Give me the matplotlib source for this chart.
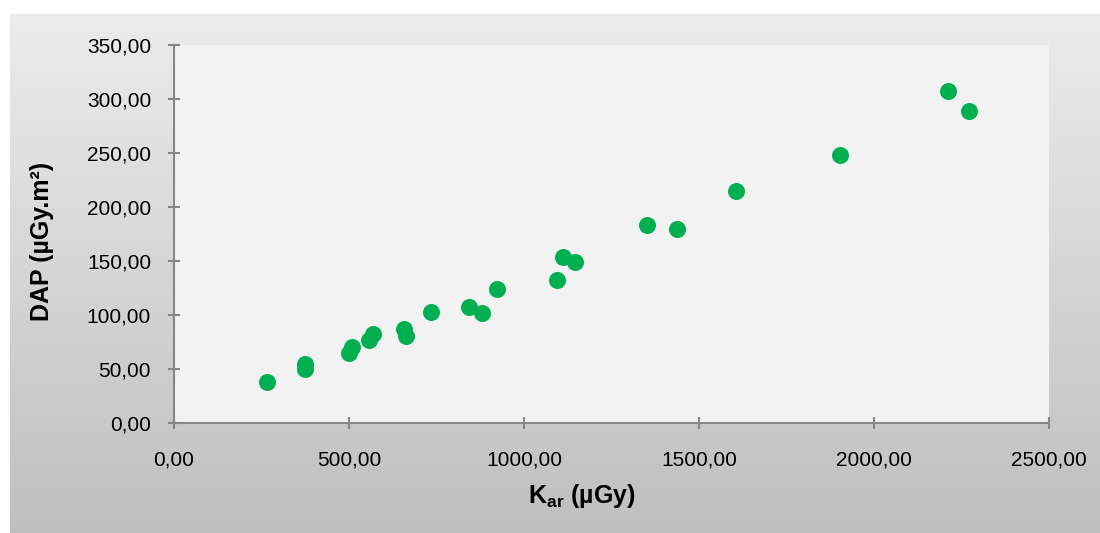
import matplotlib.pyplot as plt
import numpy as np
from matplotlib.ticker import FuncFormatter, MultipleLocator

plt.rcParams['font.family'] = ['Liberation Sans', 'DejaVu Sans']
plt.rcParams['mathtext.fontset'] = 'custom'
plt.rcParams['mathtext.rm'] = 'Liberation Sans'
plt.rcParams['mathtext.bf'] = 'Liberation Sans:bold'

# Kar (µGy) vs DAP (µGy.m2)
kar = [266, 374, 374, 501, 508, 557, 568, 658, 662, 734, 844, 880, 922,
       1095, 1112, 1146, 1352, 1437, 1607, 1902, 2211, 2270]
dap = [38.0, 54.5, 50.0, 64.5, 70.0, 76.5, 82.0, 87.5, 81.0, 102.5, 107.0, 102.0, 124.5,
       132.0, 153.5, 149.0, 183.5, 179.5, 214.5, 248.5, 307.5, 289.0]


def comma_fmt(v, pos):
    return f'{v:.2f}'.replace('.', ',')


def plot():
    fig = plt.figure(figsize=(11, 5.33), dpi=100)
    fig.patch.set_facecolor('white')

    # gradient panel behind the chart
    bg = fig.add_axes([10 / 1100, 0, 1090 / 1100, 519 / 533], zorder=-2)
    grad = np.linspace(0.925, 0.75, 256).reshape(-1, 1)
    bg.imshow(np.dstack([grad, grad, grad]), aspect='auto', extent=[0, 1, 0, 1])
    bg.set_axis_off()

    ax = fig.add_axes([174 / 1100, 110 / 533, 875 / 1100, 378 / 533])
    ax.set_facecolor('#f2f2f2')
    ax.scatter(kar, dap, s=150, color='#00b050', linewidths=0, zorder=3)

    ax.set_xlim(0, 2500)
    ax.set_ylim(0, 350)
    ax.xaxis.set_major_locator(MultipleLocator(500))
    ax.yaxis.set_major_locator(MultipleLocator(50))
    ax.xaxis.set_major_formatter(FuncFormatter(comma_fmt))
    ax.yaxis.set_major_formatter(FuncFormatter(comma_fmt))

    for s in ['top', 'right']:
        ax.spines[s].set_visible(False)
    for s in ['left', 'bottom']:
        ax.spines[s].set_color('#868686')
        ax.spines[s].set_linewidth(1.5)
    ax.tick_params(axis='both', direction='inout', length=9, width=1.5,
                   color='#868686', labelsize=15, labelcolor='black')
    ax.tick_params(axis='y', pad=12)
    ax.tick_params(axis='x', pad=15)

    ax.set_ylabel('DAP (µGy.m²)', fontsize=18, fontweight='bold')
    ax.yaxis.set_label_coords(-0.137, 0.481)
    ax.set_xlabel(r'$\mathbf{K_{ar}}$ (µGy)', fontsize=18, fontweight='bold')
    ax.xaxis.set_label_coords(0.466, -0.155)

    plt.savefig('out.png', dpi=100)
    plt.close()


if __name__ == '__main__':
    plot()
